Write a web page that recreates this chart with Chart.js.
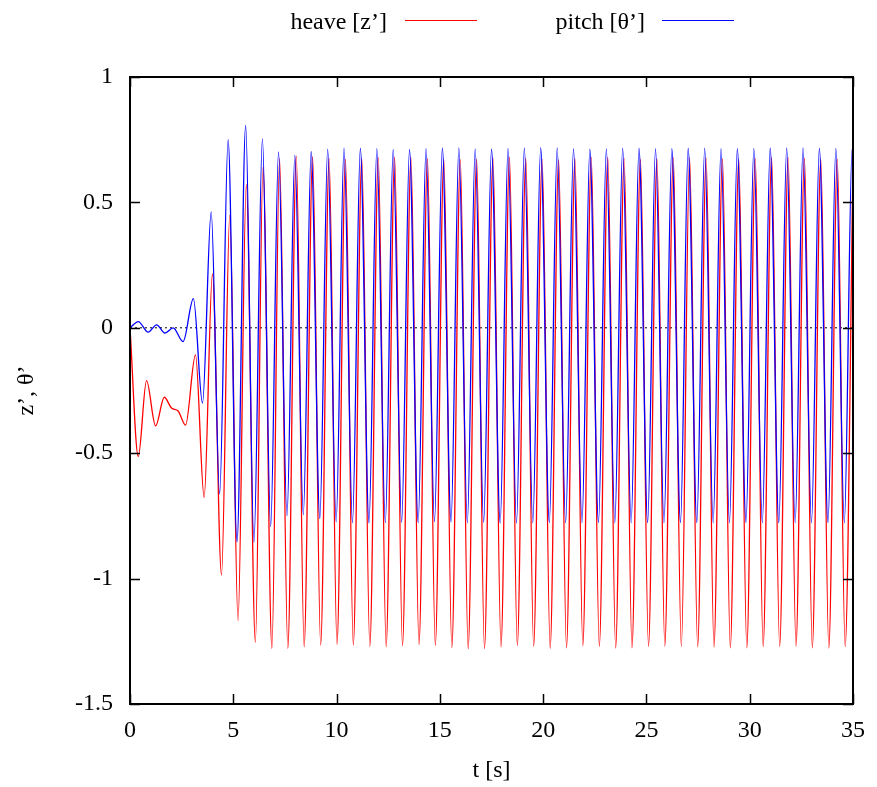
<!DOCTYPE html>
<html>
<head>
<meta charset="utf-8">
<title>heave / pitch response</title>
<script src="https://cdn.jsdelivr.net/npm/chart.js@4.4.1/dist/chart.umd.min.js"></script>
<style>
  html, body { margin: 0; padding: 0; background: #fff; }
  canvas { display: block; }
</style>
</head>
<body>
<canvas id="responseChart" width="877" height="787"></canvas>
<script>
// heave z' : times of the turning points [s] and their values
const heaveT = [
    0, 0.40, 0.80, 1.24, 1.66, 2.01, 2.33, 2.69, 3.17, 3.59,
    3.99, 4.43, 4.83, 5.23, 5.63, 6.07, 6.44, 6.87, 7.24, 7.64,
    8.05, 8.43, 8.84, 9.23, 9.64, 10.02, 10.43, 10.81, 11.22, 11.61,
    12.02, 12.40, 12.81, 13.19, 13.60, 13.99, 14.40, 14.78, 15.19, 15.58,
    15.99, 16.37, 16.78, 17.16, 17.57, 17.96, 18.37, 18.75, 19.16, 19.54,
    19.95, 20.34, 20.75, 21.13, 21.54, 21.92, 22.33, 22.72, 23.13, 23.51,
    23.92, 24.30, 24.71, 25.10, 25.51, 25.89, 26.30, 26.69, 27.09, 27.48,
    27.89, 28.27, 28.68, 29.06, 29.47, 29.86, 30.27, 30.65, 31.06, 31.45,
    31.86, 32.24, 32.65, 33.03, 33.44, 33.83, 34.24, 34.62, 35.00
];
const heaveZ = [
    0, -0.513, -0.211, -0.391, -0.277, -0.320, -0.332, -0.388, -0.108, -0.676,
    0.215, -0.986, 0.448, -1.168, 0.571, -1.254, 0.641, -1.278, 0.674, -1.278,
    0.684, -1.272, 0.682, -1.265, 0.675, -1.262, 0.672, -1.265, 0.675, -1.270,
    0.678, -1.272, 0.680, -1.268, 0.679, -1.263, 0.674, -1.266, 0.672, -1.275,
    0.670, -1.280, 0.672, -1.279, 0.677, -1.272, 0.680, -1.267, 0.676, -1.270,
    0.672, -1.278, 0.670, -1.276, 0.674, -1.268, 0.679, -1.270, 0.679, -1.277,
    0.675, -1.276, 0.671, -1.270, 0.674, -1.269, 0.678, -1.271, 0.678, -1.271,
    0.677, -1.273, 0.674, -1.276, 0.672, -1.276, 0.674, -1.271, 0.678, -1.270,
    0.678, -1.270, 0.676, -1.276, 0.672, -1.277, 0.672, -1.271, 0.650
];

// pitch theta' : times of the turning points [s] and their values
const pitchT = [
    0, 0.40, 0.88, 1.29, 1.69, 2.09, 2.57, 3.07, 3.51, 3.93,
    4.34, 4.75, 5.18, 5.60, 6.00, 6.41, 6.81, 7.19, 7.60, 7.98,
    8.39, 8.77, 9.19, 9.57, 9.98, 10.36, 10.77, 11.15, 11.57, 11.95,
    12.36, 12.74, 13.15, 13.53, 13.95, 14.33, 14.74, 15.12, 15.54, 15.92,
    16.33, 16.71, 17.12, 17.50, 17.92, 18.30, 18.71, 19.09, 19.50, 19.88,
    20.30, 20.68, 21.09, 21.47, 21.88, 22.26, 22.68, 23.06, 23.47, 23.85,
    24.26, 24.64, 25.06, 25.44, 25.85, 26.23, 26.65, 27.02, 27.44, 27.82,
    28.23, 28.61, 29.02, 29.40, 29.82, 30.20, 30.61, 30.99, 31.41, 31.79,
    32.20, 32.58, 32.99, 33.37, 33.79, 34.17, 34.58, 34.96, 35.00
];
const pitchTheta = [
    0, 0.025, -0.017, 0.012, -0.021, 0.000, -0.055, 0.116, -0.300, 0.462,
    -0.662, 0.750, -0.853, 0.807, -0.855, 0.753, -0.793, 0.701, -0.749, 0.688,
    -0.745, 0.703, -0.761, 0.712, -0.774, 0.716, -0.777, 0.716, -0.778, 0.714,
    -0.777, 0.711, -0.776, 0.711, -0.777, 0.714, -0.773, 0.717, -0.774, 0.717,
    -0.777, 0.713, -0.776, 0.713, -0.779, 0.715, -0.779, 0.717, -0.777, 0.718,
    -0.777, 0.717, -0.777, 0.714, -0.777, 0.712, -0.777, 0.713, -0.777, 0.716,
    -0.777, 0.716, -0.777, 0.714, -0.777, 0.714, -0.777, 0.716, -0.777, 0.716,
    -0.777, 0.714, -0.777, 0.714, -0.777, 0.715, -0.777, 0.717, -0.777, 0.717,
    -0.777, 0.717, -0.777, 0.716, -0.777, 0.715, -0.777, 0.715, 0.713
];

// zero axis end points
const zeroT = [0, 35];
const zeroV = [0, 0];

// axis ticks
const xTickLabels = ['0', '5', '10', '15', '20', '25', '30', '35'];
const yTickLabels = ['-1.5', '-1', '-0.5', '0', '0.5', '1'];

const seriesNames = ['heave [z\u2019]', 'pitch [\u03b8\u2019]'];

const toPoints = (ts, vs) => ts.map((t, i) => ({ x: t, y: vs[i] }));

const FONT = '"Liberation Serif", "Times New Roman", serif';
Chart.defaults.font.family = FONT;
Chart.defaults.font.size = 24;
Chart.defaults.color = '#000';

// frame, inward ticks on all four sides and the key at the top
const gnuFrame = {
    id: 'gnuFrame',
    afterDraw(chart) {
        const ctx = chart.ctx;
        const a = chart.chartArea;
        const xs = chart.scales.x;
        const ys = chart.scales.y;
        const len = 10;
        ctx.save();
        ctx.strokeStyle = '#000';
        ctx.lineWidth = 1.5;
        ctx.beginPath();
        xs.ticks.forEach(t => {
            const px = Math.round(xs.getPixelForValue(t.value)) + 0.5;
            ctx.moveTo(px, a.bottom); ctx.lineTo(px, a.bottom - len);
            ctx.moveTo(px, a.top); ctx.lineTo(px, a.top + len);
        });
        ys.ticks.forEach(t => {
            const py = Math.round(ys.getPixelForValue(t.value)) + 0.5;
            ctx.moveTo(a.left, py); ctx.lineTo(a.left + len, py);
            ctx.moveTo(a.right, py); ctx.lineTo(a.right - len, py);
        });
        ctx.stroke();
        ctx.lineWidth = 2;
        ctx.strokeRect(a.left, a.top, a.right - a.left, a.bottom - a.top);

        // key
        ctx.font = '24px ' + FONT;
        ctx.fillStyle = '#000';
        ctx.textAlign = 'right';
        ctx.textBaseline = 'alphabetic';
        const keys = [
            { text: seriesNames[0], right: 387, x0: 405, x1: 477, color: 'rgb(255,0,0)' },
            { text: seriesNames[1], right: 645, x0: 662, x1: 734, color: 'rgb(0,0,255)' }
        ];
        keys.forEach(k => {
            ctx.fillText(k.text, k.right, 29);
            ctx.strokeStyle = k.color;
            ctx.lineWidth = 1.2;
            ctx.beginPath();
            ctx.moveTo(k.x0, 20.5);
            ctx.lineTo(k.x1, 20.5);
            ctx.stroke();
        });
        ctx.restore();
    }
};

new Chart(document.getElementById('responseChart'), {
    type: 'line',
    data: {
        datasets: [
            {
                label: seriesNames[0],
                data: toPoints(heaveT, heaveZ),
                borderColor: 'rgb(255,0,0)',
                borderWidth: 1.3,
                pointRadius: 0,
                cubicInterpolationMode: 'monotone',
                order: 1
            },
            {
                label: seriesNames[1],
                data: toPoints(pitchT, pitchTheta),
                borderColor: 'rgb(0,0,255)',
                borderWidth: 1.3,
                pointRadius: 0,
                cubicInterpolationMode: 'monotone',
                order: 0
            },
            {
                label: 'zero',
                data: toPoints(zeroT, zeroV),
                borderColor: '#000',
                borderWidth: 1,
                borderDash: [2, 3],
                pointRadius: 0,
                order: 2
            }
        ]
    },
    options: {
        responsive: false,
        animation: false,
        devicePixelRatio: 1,
        layout: { padding: { top: 77, right: 22, left: 0, bottom: 0 } },
        plugins: {
            legend: { display: false },
            tooltip: { enabled: false }
        },
        scales: {
            x: {
                type: 'linear',
                min: 0,
                max: 35,
                afterFit: s => { s.height = 83; },
                ticks: {
                    stepSize: 5,
                    padding: 12,
                    maxRotation: 0,
                    callback: (v, i) => xTickLabels[i]
                },
                grid: { display: false, drawTicks: false },
                border: { display: false },
                title: {
                    display: true,
                    text: 't [s]',
                    font: { size: 24 },
                    padding: { top: 0, bottom: 2 }
                }
            },
            y: {
                type: 'linear',
                min: -1.5,
                max: 1,
                afterFit: s => { s.width = 130; },
                ticks: {
                    stepSize: 0.5,
                    padding: 17,
                    callback: (v, i) => yTickLabels[i]
                },
                grid: { display: false, drawTicks: false },
                border: { display: false },
                title: {
                    display: true,
                    text: 'z\u2019, \u03b8\u2019',
                    font: { size: 24 },
                    padding: { top: 12, bottom: 0 }
                }
            }
        }
    },
    plugins: [gnuFrame]
});
</script>
</body>
</html>
